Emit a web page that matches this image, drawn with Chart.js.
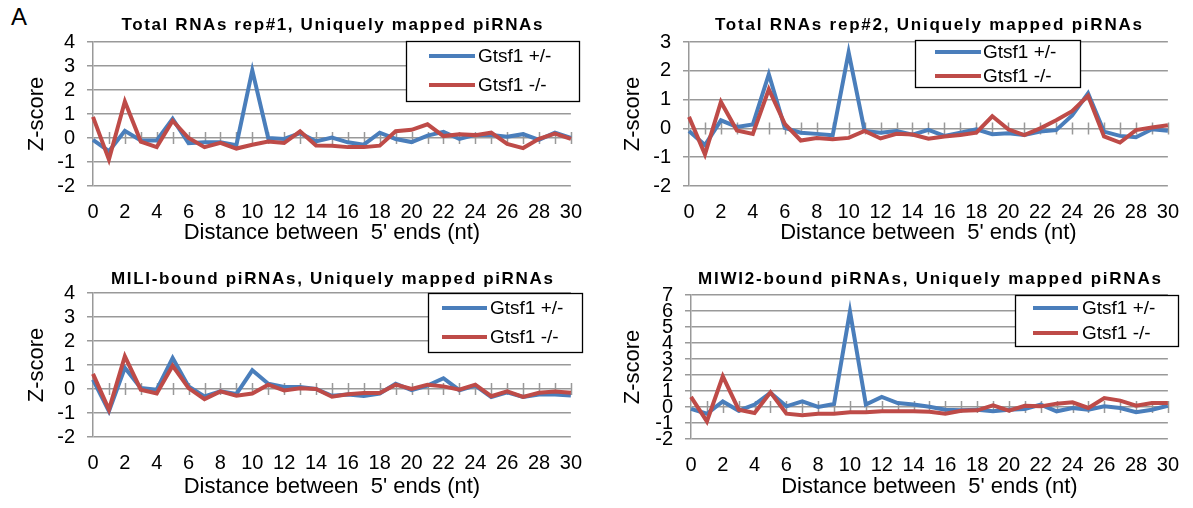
<!DOCTYPE html>
<html><head><meta charset="utf-8">
<script src="https://cdn.jsdelivr.net/npm/chart.js@4.4.1/dist/chart.umd.min.js"></script>
<style>
html,body{margin:0;padding:0;background:#fff;}
body{width:1193px;height:508px;overflow:hidden;position:relative;}
.panel{position:absolute;}
#letter{position:absolute;left:11px;top:5px;font:24px 'Liberation Sans',Arial,sans-serif;line-height:1;color:#000;}
</style></head><body>
<div id="letter">A</div>
<div class="panel" style="left:0;top:0;width:596px;height:254px"><canvas id="c1"></canvas></div>
<div class="panel" style="left:596px;top:0;width:597px;height:254px"><canvas id="c2"></canvas></div>
<div class="panel" style="left:0;top:254px;width:596px;height:254px"><canvas id="c3"></canvas></div>
<div class="panel" style="left:596px;top:254px;width:597px;height:254px"><canvas id="c4"></canvas></div>
<script>
// ---- data ----
const distances = ['0','1','2','3','4','5','6','7','8','9','10','11','12','13','14','15','16','17','18','19','20','21','22','23','24','25','26','27','28','29','30'];
const seriesLabels = ['Gtsf1 +/-', 'Gtsf1 -/-'];
const panelTitles = [
  'Total RNAs rep#1, Uniquely mapped piRNAs',
  'Total RNAs rep#2, Uniquely mapped piRNAs',
  'MILI-bound piRNAs, Uniquely mapped piRNAs',
  'MIWI2-bound piRNAs, Uniquely mapped piRNAs'
];
const xAxisTitle = "Distance between  5' ends (nt)";
const yAxisTitle = 'Z-score';

const rep1Het = [-0.08,-0.55,0.30,-0.10,-0.10,0.80,-0.22,-0.18,-0.18,-0.30,2.82,0.00,-0.04,0.20,-0.14,0.02,-0.18,-0.28,0.22,-0.04,-0.17,0.10,0.26,-0.04,0.13,0.12,0.05,0.16,-0.08,0.22,0.00];
const rep1Ko  = [0.88,-0.90,1.52,-0.15,-0.38,0.72,0.00,-0.38,-0.20,-0.44,-0.28,-0.15,-0.21,0.28,-0.31,-0.32,-0.38,-0.38,-0.32,0.28,0.34,0.57,0.08,0.16,0.12,0.22,-0.25,-0.42,-0.03,0.18,-0.04];
const rep2Het = [-0.09,-0.58,0.28,0.05,0.14,1.88,0.02,-0.15,-0.19,-0.24,2.64,-0.09,-0.15,-0.09,-0.22,-0.05,-0.26,-0.15,-0.03,-0.20,-0.17,-0.23,-0.11,-0.06,0.45,1.22,-0.11,-0.26,-0.31,-0.03,-0.08];
const rep2Ko  = [0.40,-0.90,0.92,-0.07,-0.19,1.36,0.16,-0.42,-0.33,-0.38,-0.33,-0.09,-0.35,-0.19,-0.21,-0.36,-0.28,-0.23,-0.15,0.42,-0.03,-0.23,0.00,0.28,0.60,1.13,-0.28,-0.49,-0.06,0.03,0.11];
const miliHet = [0.39,-0.93,0.88,0.04,-0.03,1.29,0.11,-0.31,-0.10,-0.21,0.78,0.22,0.08,0.08,0.00,-0.28,-0.23,-0.29,-0.19,0.22,-0.05,0.14,0.45,-0.05,0.14,-0.34,-0.14,-0.33,-0.23,-0.23,-0.27];
const miliKo  = [0.63,-0.86,1.36,-0.03,-0.19,0.97,0.04,-0.42,-0.10,-0.28,-0.19,0.18,-0.06,0.03,0.00,-0.32,-0.22,-0.17,-0.17,0.18,0.00,0.18,0.11,-0.03,0.18,-0.30,-0.10,-0.33,-0.16,-0.10,-0.16];
const miwi2Het = [-0.12,-0.42,0.35,-0.23,0.15,0.88,0.04,0.35,0.00,0.19,5.98,0.15,0.63,0.25,0.15,0.02,-0.17,-0.21,-0.17,-0.27,-0.17,-0.12,0.15,-0.27,-0.06,-0.17,0.04,-0.06,-0.33,-0.17,0.08];
const miwi2Ko  = [0.63,-0.90,1.92,-0.17,-0.38,0.92,-0.42,-0.52,-0.42,-0.42,-0.33,-0.33,-0.27,-0.27,-0.27,-0.30,-0.42,-0.23,-0.21,0.10,-0.23,0.08,0.04,0.21,0.29,-0.06,0.56,0.40,0.08,0.25,0.25];

const yRanges = [[-2,4],[-2,3],[-2,4],[-2,7]];

// ---- styling ----
const FONT = "'Liberation Sans', Arial, sans-serif";
const BLUE = '#4a7ebb';
const RED = '#be4b48';
const GRID = '#999999';

const decor = {
  id: 'decor',
  beforeDatasetsDraw(chart, args, o) {
    const {ctx} = chart;
    const xs = chart.scales.x, ys = chart.scales.y;
    const y0 = ys.getPixelForValue(0);
    ctx.save();
    ctx.strokeStyle = GRID; ctx.lineWidth = 1.5;
    ctx.beginPath();
    for (let i = 1; i < chart.data.labels.length; i++) {
      const px = Math.round(xs.getPixelForValue(i)) + 0.5;
      ctx.moveTo(px, y0 - 6); ctx.lineTo(px, y0 + 6);
    }
    ctx.stroke();
    ctx.restore();
  },
  afterDraw(chart, args, o) {
    const {ctx, chartArea} = chart;
    ctx.save();
    // title, letter-spaced to the reference width
    ctx.font = 'bold 17px ' + FONT;
    ctx.fillStyle = '#000';
    ctx.textAlign = 'left';
    ctx.textBaseline = 'middle';
    ctx.letterSpacing = '0px';
    const natural = ctx.measureText(o.title).width;
    const n = o.title.length;
    const sp = Math.max(0, (o.titleWidth - natural) / (n - 1));
    ctx.letterSpacing = sp + 'px';
    const cx = (chartArea.left + chartArea.right) / 2;
    ctx.fillText(o.title, cx - o.titleWidth / 2, o.titleY);
    ctx.letterSpacing = '0px';
    // legend
    const b = o.box;
    ctx.fillStyle = '#fff';
    ctx.fillRect(b[0], b[1], b[2] - b[0], b[3] - b[1]);
    ctx.strokeStyle = '#000'; ctx.lineWidth = 1.3;
    ctx.strokeRect(b[0] + 0.5, b[1] + 0.5, b[2] - b[0], b[3] - b[1]);
    ctx.font = '19px ' + FONT;
    ctx.textAlign = 'left';
    chart.data.datasets.forEach((ds, i) => {
      const y = o.rows[i];
      ctx.strokeStyle = ds.borderColor; ctx.lineWidth = 4;
      ctx.beginPath(); ctx.moveTo(o.lineX[0], y); ctx.lineTo(o.lineX[1], y); ctx.stroke();
      ctx.fillStyle = '#000';
      ctx.fillText(ds.label, o.textX, y + 1);
    });
    ctx.restore();
  }
};

function makeChart(id, idx, het, ko, lay) {
  const [ymin, ymax] = yRanges[idx];
  const W = lay.W, H = 254;
  return new Chart(document.getElementById(id), {
    type: 'line',
    data: {
      labels: distances,
      datasets: [
        {label: seriesLabels[0], data: het, borderColor: BLUE, borderWidth: 4, pointRadius: 0, tension: 0, order: 1, fill: false},
        {label: seriesLabels[1], data: ko, borderColor: RED, borderWidth: 4, pointRadius: 0, tension: 0, order: 0, fill: false}
      ]
    },
    options: {
      responsive: true, maintainAspectRatio: false, animation: false, devicePixelRatio: 1,
      layout: {padding: {left: 0, top: lay.T, right: W - lay.R, bottom: 0}},
      plugins: {
        legend: {display: false}, tooltip: {enabled: false},
        decor: {title: panelTitles[idx], titleY: 25, titleWidth: lay.tw, box: lay.box, lineX: lay.lineX, textX: lay.textX, rows: lay.rows}
      },
      scales: {
        x: {
          type: 'category', offset: false,
          grid: {display: false, drawTicks: false}, border: {display: false},
          ticks: {autoSkip: false, maxRotation: 0, minRotation: 0, padding: 14, color: '#000', font: {size: 20, family: FONT},
            callback: function(v, i) { return i % 2 === 0 ? this.getLabelForValue(v) : ''; }},
          title: {display: true, text: xAxisTitle, color: '#000', font: {size: 22, family: FONT}, padding: {top: 0, bottom: 8}},
          afterFit(s) { s.height = H - lay.B; }
        },
        y: {
          min: ymin, max: ymax,
          ticks: {stepSize: 1, autoSkip: false, padding: 12, color: '#000', font: {size: 20, family: FONT}},
          grid: {color: GRID, lineWidth: 1.5, tickLength: 6},
          border: {color: GRID, width: 1.5},
          title: {display: true, text: yAxisTitle, color: '#000', font: {size: 22, family: FONT}, padding: {top: 24, bottom: 0}},
          afterFit(s) { s.width = lay.L; }
        }
      }
    },
    plugins: [decor]
  });
}

makeChart('c1', 0, rep1Het, rep1Ko, {W: 596, L: 93, R: 577, T: 42, B: 186, tw: 421, box: [406, 41, 579, 101], lineX: [429, 475], textX: 478, rows: [56, 85]});
makeChart('c2', 1, rep2Het, rep2Ko, {W: 597, L: 93, R: 581, T: 42, B: 186, tw: 427, box: [319, 40, 484, 87], lineX: [339, 385], textX: 387, rows: [52, 76]});
makeChart('c3', 2, miliHet, miliKo, {W: 596, L: 93, R: 576, T: 39, B: 183, tw: 442, box: [428, 39, 582, 98], lineX: [442, 487], textX: 490, rows: [54, 83]});
makeChart('c4', 3, miwi2Het, miwi2Ko, {W: 597, L: 95, R: 583, T: 41, B: 185, tw: 463, box: [419, 41, 582, 92], lineX: [437, 482], textX: 486, rows: [54, 79]});
</script>
</body></html>
